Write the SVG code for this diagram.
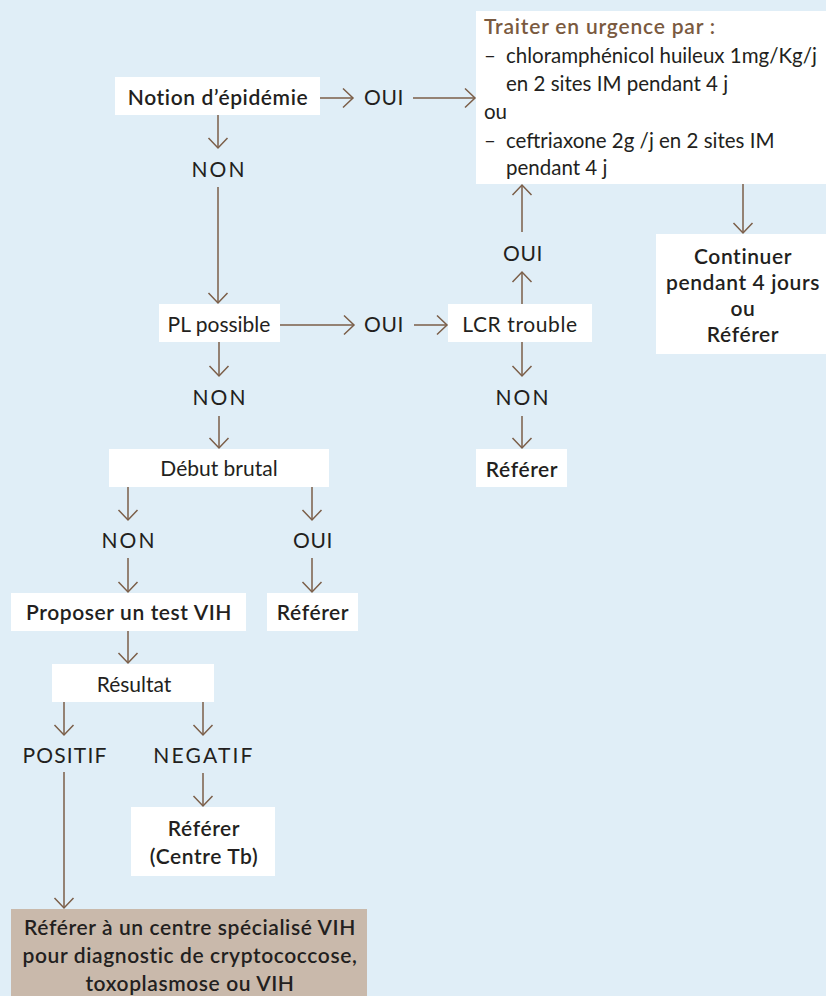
<svg xmlns="http://www.w3.org/2000/svg" width="826" height="996" viewBox="0 0 826 996">
<defs>
<style>
text{font-family:"Lato","Noto Sans","Liberation Sans",sans-serif;font-size:21px;fill:#231f20}
.c{text-anchor:middle}
.b{font-weight:600;letter-spacing:0.6px}
.t{fill:#7a5a40;font-weight:600;letter-spacing:0.8px}
.l{font-size:20.5px}
.n{letter-spacing:2px}
.o{letter-spacing:0.6px}
.box{fill:#ffffff}
.tan{fill:#c9b9ab}
.con line{stroke:#7b5e48;stroke-width:1.5;fill:none;marker-end:url(#ah)}
</style>
<marker id="ah" markerUnits="userSpaceOnUse" markerWidth="12" markerHeight="22" viewBox="0 0 12 22" refX="11" refY="11" orient="auto" overflow="visible">
<path d="M1,1.5 L11,11 L1,20.5" fill="none" stroke="#7b5e48" stroke-width="1.5"/>
</marker>
</defs>
<rect x="0" y="0" width="826" height="996" fill="#e0eef7"/>

<g id="connectors" class="con">
<line x1="320" y1="98" x2="353" y2="98"/>
<line x1="413" y1="98" x2="475" y2="98"/>
<line x1="218" y1="115" x2="218" y2="148"/>
<line x1="218" y1="187" x2="218" y2="303"/>
<line x1="280" y1="325" x2="354" y2="325"/>
<line x1="414" y1="325" x2="447" y2="325"/>
<line x1="522" y1="304" x2="522" y2="272"/>
<line x1="522" y1="232" x2="522" y2="185"/>
<line x1="743" y1="184" x2="743" y2="233"/>
<line x1="522" y1="342" x2="522" y2="376"/>
<line x1="522" y1="416" x2="522" y2="448"/>
<line x1="219" y1="342" x2="219" y2="376"/>
<line x1="219" y1="416" x2="219" y2="448"/>
<line x1="128" y1="487" x2="128" y2="520"/>
<line x1="128" y1="558" x2="128" y2="592"/>
<line x1="312" y1="487" x2="312" y2="520"/>
<line x1="312" y1="558" x2="312" y2="592"/>
<line x1="128" y1="631" x2="128" y2="663"/>
<line x1="64" y1="702" x2="64" y2="735"/>
<line x1="203" y1="702" x2="203" y2="735"/>
<line x1="203" y1="773" x2="203" y2="806"/>
<line x1="64" y1="772" x2="64" y2="908"/>
</g>

<g id="notion">
<rect class="box" x="115" y="77" width="205" height="38"/>
<text class="c b" x="218" y="105">Notion d’épidémie</text>
</g>
<g id="oui1"><text class="c o" x="384" y="105">OUI</text></g>
<g id="traiter">
<rect class="box" x="476" y="11" width="350" height="173"/>
<text class="t" x="484" y="34">Traiter en urgence par :</text>
<text class="l" x="484" y="63">–</text>
<text class="l" x="506" y="63">chloramphénicol huileux 1mg/Kg/j</text>
<text class="l" x="506" y="91">en 2 sites IM pendant 4 j</text>
<text class="l" x="484" y="119">ou</text>
<text class="l" x="484" y="148">–</text>
<text class="l" x="506" y="148">ceftriaxone 2g /j en 2 sites IM</text>
<text class="l" x="506" y="175">pendant 4 j</text>
</g>
<g id="continuer">
<rect class="box" x="656" y="234" width="170" height="120"/>
<text class="c b" x="743" y="264">Continuer</text>
<text class="c b" x="743" y="290">pendant 4 jours</text>
<text class="c b" x="743" y="316">ou</text>
<text class="c b" x="743" y="342">Référer</text>
</g>
<g id="non1"><text class="c n" x="219" y="177">NON</text></g>
<g id="pl">
<rect class="box" x="159" y="304" width="121" height="38"/>
<text class="c" x="219" y="332">PL possible</text>
</g>
<g id="oui2"><text class="c o" x="384" y="332">OUI</text></g>
<g id="lcr">
<rect class="box" x="448" y="304" width="144" height="38"/>
<text class="c o" x="520" y="332">LCR trouble</text>
</g>
<g id="oui3"><text class="c o" x="523" y="261">OUI</text></g>
<g id="non2"><text class="c n" x="523" y="405">NON</text></g>
<g id="referer1">
<rect class="box" x="476" y="449" width="91" height="38"/>
<text class="c b" x="522" y="477">Référer</text>
</g>
<g id="non3"><text class="c n" x="220" y="405">NON</text></g>
<g id="debut">
<rect class="box" x="109" y="449" width="220" height="38"/>
<text class="c" x="219" y="476">Début brutal</text>
</g>
<g id="non4"><text class="c n" x="129" y="548">NON</text></g>
<g id="oui4"><text class="c o" x="313" y="548">OUI</text></g>
<g id="proposer">
<rect class="box" x="11" y="593" width="235" height="38"/>
<text class="c b" x="129" y="620">Proposer un test VIH</text>
</g>
<g id="referer2">
<rect class="box" x="267" y="593" width="91" height="38"/>
<text class="c b" x="313" y="620">Référer</text>
</g>
<g id="resultat">
<rect class="box" x="52" y="664" width="162" height="38"/>
<text class="c" x="134" y="692">Résultat</text>
</g>
<g id="positif"><text class="c" style="letter-spacing:1.2px" x="65" y="763">POSITIF</text></g>
<g id="negatif"><text class="c" style="letter-spacing:2.2px" x="204" y="763">NEGATIF</text></g>
<g id="referer3">
<rect class="box" x="131" y="807" width="144" height="69"/>
<text class="c b" x="204" y="836">Référer</text>
<text class="c b" x="204" y="864">(Centre Tb)</text>
</g>
<g id="specialise">
<rect class="tan" x="11" y="909" width="356" height="87"/>
<text class="c b" x="190" y="935">Référer à un centre spécialisé VIH</text>
<text class="c b" x="190" y="963">pour diagnostic de cryptococcose,</text>
<text class="c b" x="190" y="991">toxoplasmose ou VIH</text>
</g>
</svg>
